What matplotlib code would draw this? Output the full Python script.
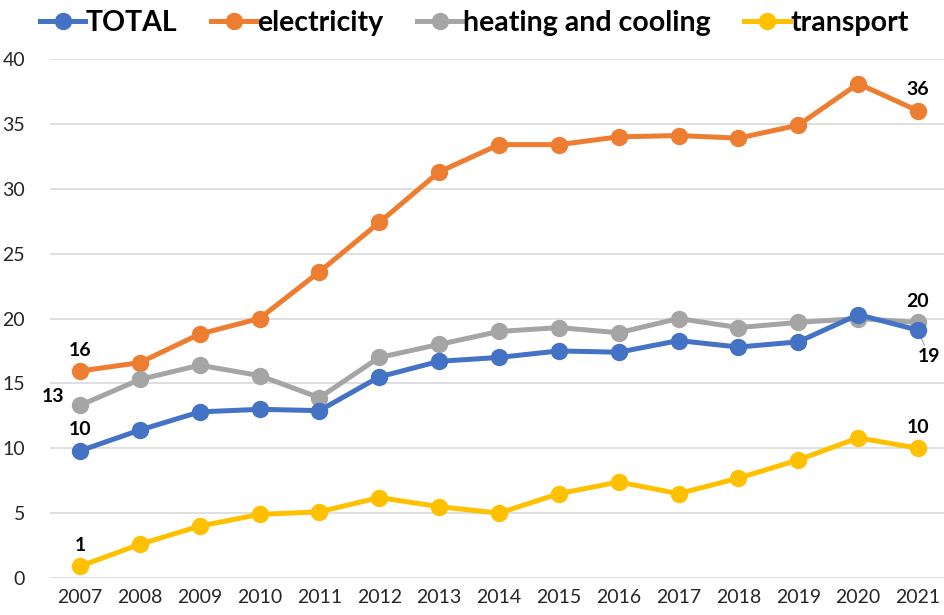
import matplotlib
matplotlib.use("Agg")
import matplotlib.pyplot as plt

years = [2007, 2008, 2009, 2010, 2011, 2012, 2013, 2014, 2015, 2016, 2017, 2018, 2019, 2020, 2021]
total = [9.8, 11.4, 12.8, 13.0, 12.9, 15.5, 16.7, 17.0, 17.5, 17.4, 18.3, 17.8, 18.2, 20.3, 19.1]
electricity = [15.95, 16.6, 18.8, 20.0, 23.6, 27.4, 31.3, 33.4, 33.4, 34.0, 34.1, 33.9, 34.9, 38.1, 36.0]
heating = [13.3, 15.3, 16.4, 15.6, 13.9, 17.0, 18.0, 19.0, 19.3, 18.9, 20.0, 19.3, 19.7, 20.0, 19.7]
transport = [0.9, 2.6, 4.0, 4.9, 5.1, 6.2, 5.5, 5.0, 6.5, 7.4, 6.5, 7.7, 9.1, 10.8, 10.0]
series_names = ["TOTAL", "electricity", "heating and cooling", "transport"]
colors = ["#4472C4", "#ED7D31", "#A5A5A5", "#FFC000"]
yticks = [0, 5, 10, 15, 20, 25, 30, 35, 40]

plt.rcParams['font.family'] = ['Lato', 'DejaVu Sans']

fig = plt.figure(figsize=(9.45, 6.15), dpi=100)
ax = fig.add_axes([50/945, 37/615, 895/945, 519/615])

series = [total, electricity, heating, transport]
order = [3, 0, 2, 1]
handles = {}
for i in order:
    h, = ax.plot(years, series[i], color=colors[i], lw=3.6, marker='o', ms=11.5,
                 label=series_names[i], clip_on=False, zorder=3 + i * 0.1 if i != 0 else 3.5)
    handles[i] = h

ax.set_xlim(2006.5, 2021.45)
ax.set_ylim(0, 40)
ax.set_yticks(yticks)
ax.set_xticks(years)
ax.grid(axis='y', color='#D9D9D9', lw=1.2)
ax.set_axisbelow(True)
for s in ax.spines.values():
    s.set_visible(False)
ax.tick_params(length=0, labelsize=14, colors='#262626', pad=8)
ax.tick_params(axis='y', pad=18)

fs = 14
lab = dict(fontsize=fs, fontweight='bold', color='black', ha='center', va='bottom')
ax.annotate("16", (years[0], electricity[0]), xytext=(0, 9), textcoords='offset points', **lab)
ax.annotate("13", (years[0], heating[0]), xytext=(-11, 0), textcoords='offset points',
            fontsize=fs, fontweight='bold', ha='right', va='bottom')
ax.annotate("10", (years[0], total[0]), xytext=(0, 9), textcoords='offset points', **lab)
ax.annotate("1", (years[0], transport[0]), xytext=(0, 9), textcoords='offset points', **lab)
ax.annotate("36", (years[-1], electricity[-1]), xytext=(0, 9), textcoords='offset points', **lab)
ax.annotate("20", (years[-1], heating[-1]), xytext=(0, 9), textcoords='offset points', **lab)
ax.annotate("10", (years[-1], transport[-1]), xytext=(0, 9), textcoords='offset points', **lab)
ax.annotate("19", (years[-1], total[-1]), xytext=(8, -13), textcoords='offset points',
            fontsize=fs, fontweight='bold', ha='center', va='top',
            arrowprops=dict(arrowstyle='-', color='#A5A5A5', lw=0.8, shrinkA=0, shrinkB=4))

leg = fig.legend([handles[i] for i in range(4)], series_names, loc='center left',
                 bbox_to_anchor=(0.015, 0.963), ncol=4, frameon=False, handlelength=1.6,
                 handletextpad=0.0, columnspacing=1.2, prop=dict(size=20.5, weight='bold'))

fig.savefig("out.png", dpi=100)
